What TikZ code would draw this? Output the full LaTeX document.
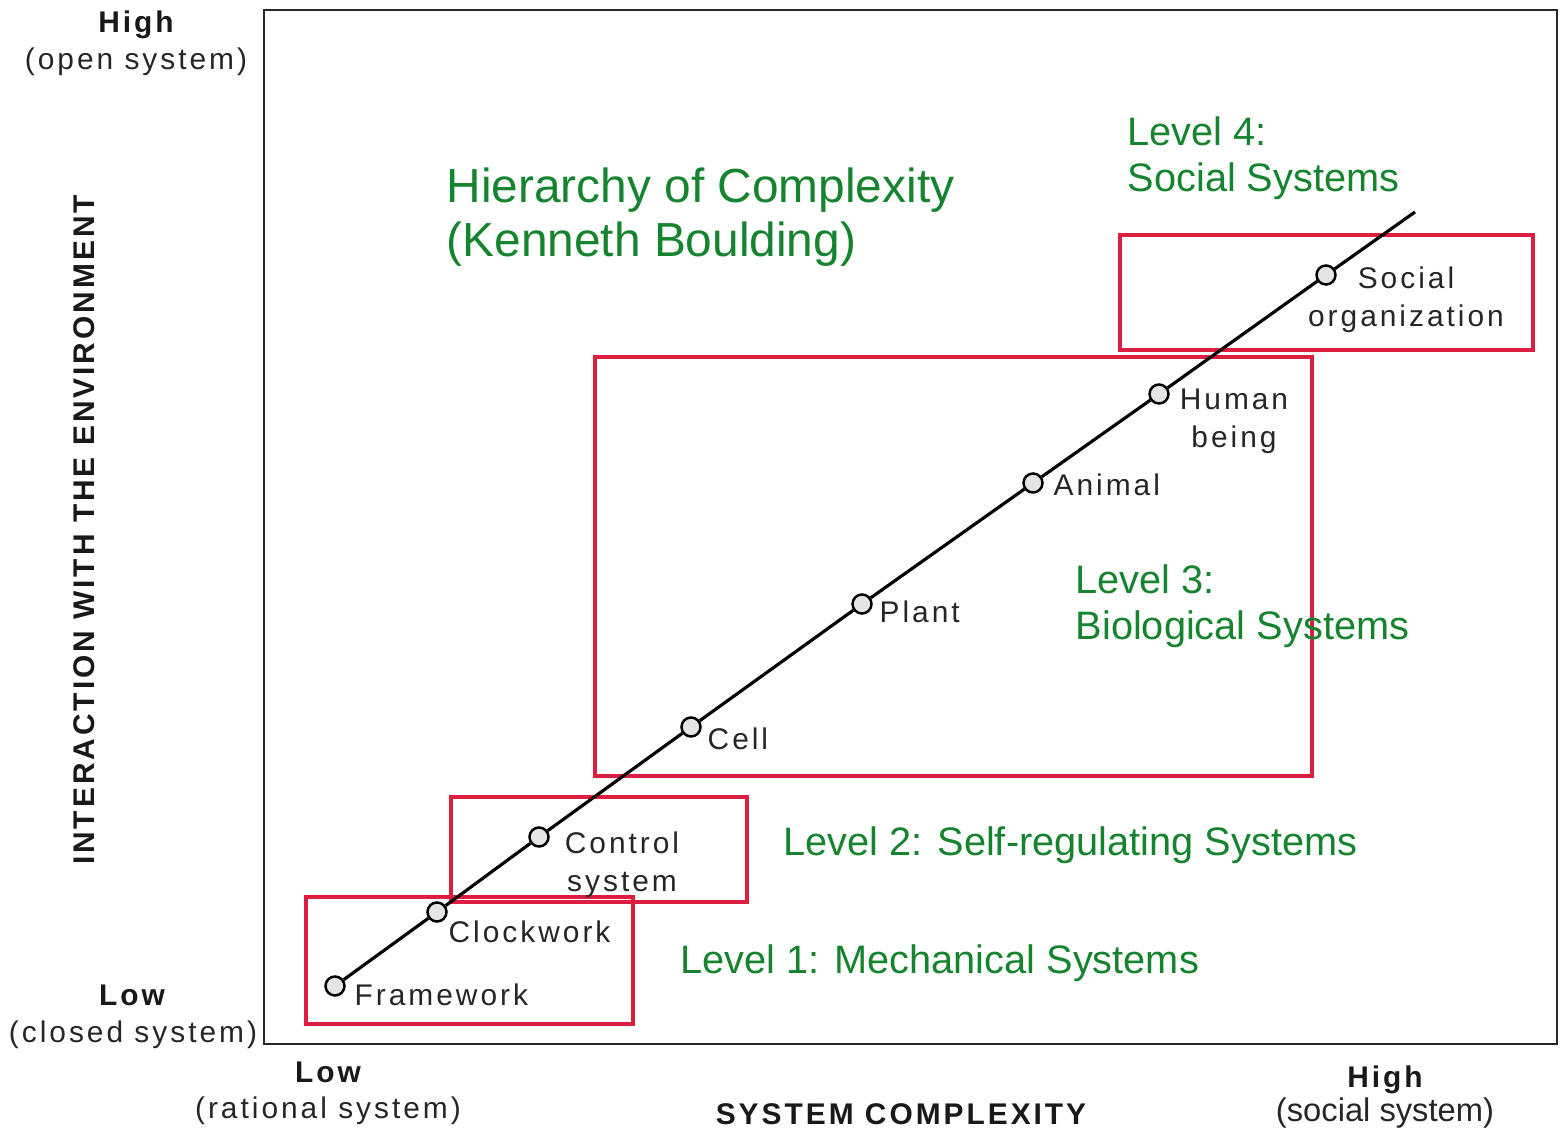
\documentclass[tikz,border=0pt]{standalone}
\usepackage{fontspec}
\setmainfont{Liberation Sans}
\newfontfamily\lblfont[LetterSpace=10]{Liberation Sans}
\definecolor{lvlgreen}{HTML}{16832F}
\definecolor{boxred}{HTML}{DC1E40}
\begin{document}
\begin{tikzpicture}[x=0.01cm,y=-0.01cm,
  lbl/.style={inner sep=0pt,font=\lblfont\fontsize{8.5}{11}\selectfont,text=black!85},
  axb/.style={inner sep=0pt,font=\lblfont\bfseries\fontsize{8.5}{11}\selectfont,text=black!90},
  grn/.style={inner sep=0pt,text=lvlgreen,font=\fontsize{11.3}{13.3}\selectfont},
  ttl/.style={inner sep=0pt,text=lvlgreen,font=\fontsize{13.6}{15.6}\selectfont},
  pt/.style={circle,draw=black,line width=0.7pt,fill=gray!20,minimum size=0.19cm,inner sep=0pt},
  lvlbox/.style={draw=boxred,line width=0.9pt},
  chain/.style={draw=black,line width=0.9pt}]
\useasboundingbox (0,0) rectangle (1560,1131);
% frame
\draw[line width=0.8pt,black!85] (264,10) rectangle (1557,1044);
% level boxes
\draw[lvlbox] (306,897) rectangle (633,1024);
\draw[lvlbox] (451,797) rectangle (747,902);
\draw[lvlbox] (595,357) rectangle (1312,776);
\draw[lvlbox] (1120,235) rectangle (1533,350);
% points
\node[pt] (fw) at (335,986) {};
\node[pt] (cw) at (437,912) {};
\node[pt] (cs) at (539,837) {};
\node[pt] (ce) at (691,727) {};
\node[pt] (pl) at (862,604) {};
\node[pt] (an) at (1033,483) {};
\node[pt] (hb) at (1159,394) {};
\node[pt] (so) at (1326,275) {};
\coordinate (top) at (1415,212);
\path[chain] (fw) -- (cw) (cw) -- (cs) (cs) -- (ce) (ce) -- (pl) (pl) -- (an) (an) -- (hb) (hb) -- (so) (so) -- (top);
% point labels
\node[lbl,anchor=base west] (lfw) at (354,1005) {Framework};
\node[lbl,anchor=base west] (lcw) at (448,943) {Clockwork};
\node[lbl,anchor=base,align=center] (lcs) at (622,892) {Control\\system};
\node[lbl,anchor=base west] (lce) at (707,750) {Cell};
\node[lbl,anchor=base west] (lpl) at (879,623) {Plant};
\node[lbl,anchor=base west] (lan) at (1053,496) {Animal};
\node[lbl,anchor=base,align=center] (lhb) at (1234,448) {Human\\being};
\node[lbl,anchor=base,align=center] (lso) at (1406,327) {Social\\organization};
% green texts
\node[ttl,anchor=base west,align=left] (title) at (446,257) {Hierarchy of Complexity\\(Kenneth Boulding)};
\node[grn,anchor=base west,align=left] (l4) at (1127,192) {Level 4:\\Social Systems};
\node[grn,anchor=base west,align=left] (l3) at (1075,640) {Level 3:\\Biological Systems};
\node[grn,anchor=base west] (l2) at (783,856) {Level 2: Self-regulating Systems};
\node[grn,anchor=base west] (l1) at (680,974) {Level 1: Mechanical Systems};
% axis labels
\node[axb,anchor=base] (yhi) at (136,33) {High};
\node[lbl,anchor=base] (yhis) at (136,70) {(open system)};
\node[axb,anchor=base] (ylo) at (132,1006) {Low};
\node[lbl,anchor=base] (ylos) at (133,1043) {(closed system)};
\node[axb,anchor=base] (xlo) at (328,1082) {Low};
\node[lbl,anchor=base] (xlos) at (328,1119) {(rational system)};
\node[axb,anchor=base] (xhi) at (1385,1087) {High};
\node[lbl,anchor=base,font=\fontsize{9.3}{11}\selectfont] (xhis) at (1385,1122) {(social system)};
\node[axb,anchor=base] (xax) at (901,1124) {SYSTEM COMPLEXITY};
\node[axb,anchor=base,rotate=90] (yax) at (94,530) {INTERACTION WITH THE ENVIRONMENT};
\end{tikzpicture}
\end{document}
